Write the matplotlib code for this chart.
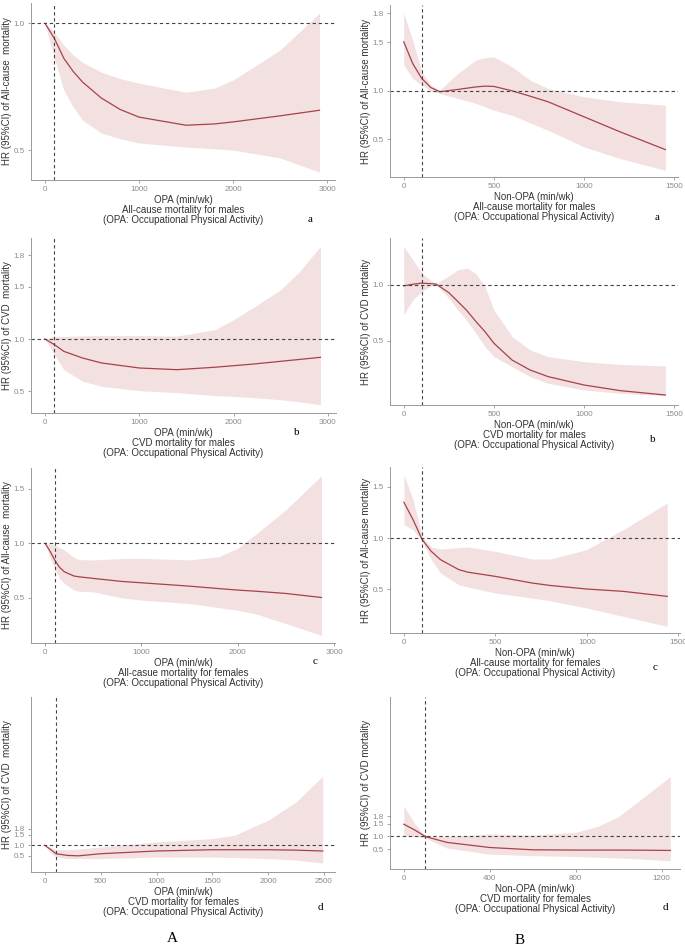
import matplotlib
matplotlib.use("Agg")
import matplotlib.pyplot as plt

plt.rcParams["font.family"] = ["Liberation Sans", "DejaVu Sans"]

# ---- data (HR with 95% CI) ----
# A-a: OPA, all-cause mortality, males
aa_x = [0, 50, 100, 200, 300, 400, 600, 800, 1000, 1500, 1800, 2000, 2500, 2920]
aa_hr = [1.0, 0.97, 0.94, 0.862, 0.81, 0.768, 0.705, 0.66, 0.63, 0.598, 0.603, 0.611, 0.635, 0.657]
aa_lo = [1.0, 0.93, 0.862, 0.736, 0.67, 0.618, 0.567, 0.545, 0.528, 0.512, 0.505, 0.5, 0.469, 0.413]
aa_hi = [1.0, 0.985, 0.965, 0.913, 0.875, 0.846, 0.807, 0.782, 0.764, 0.728, 0.744, 0.776, 0.894, 1.04]

# B-a: Non-OPA, all-cause mortality, males
ba_x = [0, 50, 100, 150, 200, 300, 400, 450, 500, 600, 700, 800, 1000, 1200, 1450]
ba_hr = [1.505, 1.28, 1.127, 1.034, 0.99, 1.014, 1.04, 1.048, 1.045, 1.0, 0.945, 0.887, 0.732, 0.577, 0.395]
ba_lo = [1.265, 1.127, 1.058, 1.0, 0.972, 0.921, 0.87, 0.835, 0.8, 0.749, 0.67, 0.594, 0.423, 0.302, 0.182]
ba_hi = [1.8, 1.52, 1.196, 1.058, 1.007, 1.179, 1.316, 1.34, 1.35, 1.247, 1.11, 1.024, 0.938, 0.887, 0.852]

# A-b: OPA, CVD mortality, males
ab_x = [0, 100, 200, 400, 600, 1000, 1400, 1800, 2000, 2200, 2500, 2700, 2920]
ab_hr = [1.0, 0.946, 0.882, 0.818, 0.771, 0.723, 0.707, 0.73, 0.745, 0.76, 0.787, 0.805, 0.825]
ab_lo = [1.0, 0.85, 0.707, 0.596, 0.548, 0.506, 0.488, 0.46, 0.452, 0.44, 0.42, 0.40, 0.373]
ab_hi = [1.0, 1.025, 1.025, 1.03, 1.032, 1.032, 1.028, 1.089, 1.185, 1.296, 1.471, 1.646, 1.885]

# B-b: Non-OPA, CVD mortality, males
bb_x = [0, 50, 100, 150, 180, 250, 300, 350, 400, 450, 500, 600, 700, 800, 1000, 1200, 1450]
bb_hr = [0.99, 1.005, 1.015, 1.01, 1.006, 0.93, 0.851, 0.77, 0.673, 0.583, 0.479, 0.33, 0.241, 0.182, 0.107, 0.057, 0.018]
bb_lo = [0.732, 0.866, 0.94, 0.99, 1.0, 0.881, 0.777, 0.68, 0.568, 0.45, 0.36, 0.271, 0.182, 0.122, 0.0625, 0.033, 0.012]
bb_hi = [1.342, 1.223, 1.104, 1.04, 1.012, 1.08, 1.134, 1.149, 1.1, 0.985, 0.777, 0.539, 0.42, 0.36, 0.315, 0.29, 0.277]

# A-c: OPA, all-cause mortality, females
ac_x = [0, 50, 100, 150, 200, 300, 350, 500, 800, 1000, 1500, 1800, 2000, 2200, 2500, 2870]
ac_hr = [1.0, 0.93, 0.847, 0.78, 0.739, 0.70, 0.693, 0.678, 0.65, 0.638, 0.607, 0.585, 0.571, 0.56, 0.54, 0.503]
ac_lo = [1.0, 0.87, 0.77, 0.68, 0.632, 0.571, 0.56, 0.555, 0.5, 0.479, 0.448, 0.41, 0.387, 0.35, 0.264, 0.156]
ac_hi = [1.0, 0.995, 0.985, 0.96, 0.939, 0.87, 0.85, 0.847, 0.86, 0.862, 0.847, 0.877, 0.954, 1.092, 1.307, 1.62]

# B-c: Non-OPA, all-cause mortality, females
bc_x = [0, 50, 100, 150, 200, 300, 350, 500, 700, 800, 1000, 1200, 1440]
bc_hr = [1.35, 1.18, 0.984, 0.869, 0.788, 0.69, 0.665, 0.624, 0.559, 0.535, 0.5, 0.477, 0.428]
bc_lo = [1.131, 1.082, 0.967, 0.788, 0.657, 0.542, 0.52, 0.461, 0.412, 0.385, 0.314, 0.232, 0.134]
bc_hi = [1.62, 1.376, 1.016, 0.912, 0.892, 0.905, 0.912, 0.869, 0.794, 0.794, 0.886, 1.082, 1.343]

# A-d: OPA, CVD mortality, females
ad_x = [0, 50, 100, 200, 300, 500, 1000, 1500, 1700, 2000, 2250, 2490]
ad_hr = [1.0, 0.8, 0.6, 0.52, 0.5, 0.6, 0.73, 0.79, 0.79, 0.79, 0.77, 0.73]
ad_lo = [1.0, 0.65, 0.44, 0.37, 0.37, 0.37, 0.44, 0.44, 0.42, 0.37, 0.3, 0.16]
ad_hi = [1.0, 0.9, 0.79, 0.79, 0.82, 0.92, 1.16, 1.32, 1.48, 2.19, 3.06, 4.29]

# B-d: Non-OPA, CVD mortality, females
bd_x = [0, 50, 100, 200, 400, 600, 800, 900, 1000, 1100, 1240]
bd_hr = [1.48, 1.26, 1.0, 0.77, 0.57, 0.48, 0.47, 0.47, 0.47, 0.465, 0.455]
bd_lo = [1.0, 1.0, 0.94, 0.55, 0.31, 0.25, 0.22, 0.19, 0.16, 0.12, 0.05]
bd_hi = [2.19, 1.52, 1.0, 1.0, 1.1, 1.06, 1.16, 1.39, 1.78, 2.43, 3.34]

opa_ticks = [0, 1000, 2000, 3000]
opa_d_ticks = [0, 500, 1000, 1500, 2000, 2500]
non_ticks = [0, 500, 1000, 1500]
non_d_ticks = [0, 400, 800, 1200]

ylab_all_A = "HR (95%CI) of All-cause  mortality"
ylab_all_B = "HR (95%CI) of All-cause mortality"
ylab_cvd_A = "HR (95%CI) of CVD  mortality"
ylab_cvd_B = "HR (95%CI) of CVD mortality"
footer = "(OPA: Occupational Physical Activity)"

W, H = 685, 951
fig = plt.figure(figsize=(W / 100, H / 100), dpi=100)

LINE = "#a8414b"
BAND = "#f3e0e1"
GRAY = "#8a8a8a"
SERIF = ["Liberation Serif", "DejaVu Serif"]


def panel(box, x, hr, lo, hi, xlim, ylim, xticks, yticks, ylabel, xname, caption, letter, letter_xy):
    l, t, r, b = box
    ax = fig.add_axes([l / W, 1 - b / H, (r - l) / W, (b - t) / H])
    ax.fill_between(x, lo, hi, color=BAND, lw=0)
    ax.plot(x, hr, color=LINE, lw=0.9)
    ax.axhline(1.0, color="#444444", lw=0.8, ls=(0, (3, 2.5)))
    ax.axvline(100, color="#444444", lw=0.8, ls=(0, (3, 2.5)))
    ax.set_xlim(xlim)
    ax.set_ylim(ylim)
    ax.set_xticks(xticks)
    ax.set_yticks(yticks)
    ax.set_yticklabels(["%.1f" % v for v in yticks])
    for s in ["top", "right"]:
        ax.spines[s].set_visible(False)
    for s in ["left", "bottom"]:
        ax.spines[s].set_color("#9a9a9a")
        ax.spines[s].set_linewidth(0.7)
    ax.tick_params(length=2.5, width=0.6, color="#9a9a9a", labelcolor=GRAY, labelsize=5.8, pad=2)
    ax.set_ylabel(ylabel, fontsize=7, color="#333333", labelpad=1)
    ax.set_xlabel(xname + "\n" + caption + "\n" + footer, fontsize=7, color="#333333",
                  labelpad=1.5, linespacing=1.0)
    fig.text(letter_xy[0] / W, 1 - letter_xy[1] / H, letter, fontsize=8,
             family=SERIF, ha="center", va="center")
    return ax


panel((31, 3, 335, 180), aa_x, aa_hr, aa_lo, aa_hi, (-149, 3085), (0.382, 1.08), opa_ticks, [0.5, 1.0],
      ylab_all_A, "OPA (min/wk)", "All-cause mortality for males", "a", (310, 220))
panel((390, 5, 678, 177), ba_x, ba_hr, ba_lo, ba_hi, (-76, 1520), (0.113, 1.883), non_ticks, [0.5, 1.0, 1.5, 1.8],
      ylab_all_B, "Non-OPA (min/wk)", "All-cause mortality for males", "a", (657, 217))
panel((31, 238, 336, 413), ab_x, ab_hr, ab_lo, ab_hi, (-148, 3085), (0.293, 1.965), opa_ticks, [0.5, 1.0, 1.5, 1.8],
      ylab_cvd_A, "OPA (min/wk)", "CVD mortality for males", "b", (297, 432))
panel((390, 238, 678, 405), bb_x, bb_hr, bb_lo, bb_hi, (-76, 1520), (-0.071, 1.417), non_ticks, [0.5, 1.0],
      ylab_cvd_B, "Non-OPA (min/wk)", "CVD mortality for males", "b", (653, 440))
panel((31, 468, 335, 643), ac_x, ac_hr, ac_lo, ac_hi, (-146, 3010), (0.086, 1.69), opa_ticks, [0.5, 1.0, 1.5],
      ylab_all_A, "OPA (min/wk)", "All-casue mortality for females", "c", (315, 662))
panel((390, 467, 680, 633), bc_x, bc_hr, bc_lo, bc_hi, (-76, 1510), (0.069, 1.696), non_ticks, [0.5, 1.0, 1.5],
      ylab_all_B, "Non-OPA (min/wk)", "All-cause mortality for females", "c", (655, 668))
panel((31, 697, 335, 872), ad_x, ad_hr, ad_lo, ad_hi, (-125, 2600), (-0.27, 8.06), opa_d_ticks, [0.5, 1.0, 1.5, 1.8],
      ylab_cvd_A, "OPA (min/wk)", "CVD mortality for females", "d", (320, 907))
panel((390, 697, 680, 869), bd_x, bd_hr, bd_lo, bd_hi, (-64, 1285), (-0.27, 6.45), non_d_ticks, [0.5, 1.0, 1.5, 1.8],
      ylab_cvd_B, "Non-OPA (min/wk)", "CVD mortality for females", "d", (665, 907))

fig.text(172 / W, 1 - 938 / H, "A", fontsize=11, family=SERIF, ha="center", va="center")
fig.text(520 / W, 1 - 940 / H, "B", fontsize=11, family=SERIF, ha="center", va="center")

fig.savefig("out.png", dpi=100)
